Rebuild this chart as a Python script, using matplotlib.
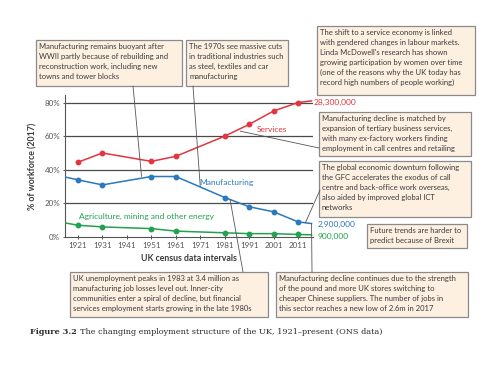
import matplotlib.pyplot as plt
from matplotlib.patches import Rectangle

# ---- data (share of workforce, %) ----
census_years = [1921, 1931, 1951, 1961, 1981, 1991, 2001, 2011]
services = [44.5, 50, 45, 48, 60, 67, 75, 80]
manufacturing = [34, 31, 36, 36, 23.5, 18, 15, 9]
agriculture = [7, 6, 5, 3.5, 2.5, 2, 2, 1.5]

# values at the axis edges (lines run on, no marker)
edge_years = [1916, 2016.5]
services_edge = [None, 81]
manufacturing_edge = [35.6, 8]
agriculture_edge = [8.3, 1.3]

xtick_years = [1921, 1931, 1941, 1951, 1961, 1971, 1981, 1991, 2001, 2011]
ytick_vals = [0, 20, 40, 60, 80]

end_labels = ["28,300,000", "2,900,000", "900,000"]

RED = "#e3343f"
BLUE = "#2a78be"
GREEN = "#22a24e"
BOX_FC = "#fdf0e1"
BOX_EC = "#8a8a8a"
TXT = "#3a3a3a"
FONT = "Lato"

plt.rcParams["font.family"] = [FONT, "DejaVu Sans"]

fig = plt.figure(figsize=(5, 3.65), dpi=100)
W, H = 500, 365

# main plot area, in pixels: x 65..313, y 95..237
ax = fig.add_axes([65 / W, 1 - 237 / H, (313 - 65) / W, (237 - 95) / H])
ax.set_xlim(1915.7, 2017.1)
ax.set_ylim(0, 84.5)

def series(xs, ys, e0, e1, color):
    px, py = [], []
    if e0 is not None:
        px.append(edge_years[0]); py.append(e0)
    px += xs; py += ys
    if e1 is not None:
        px.append(edge_years[1]); py.append(e1)
    ax.plot(px, py, color=color, lw=1.1, zorder=3)
    ax.plot(xs, ys, "o", color=color, ms=3.2, zorder=4)

series(census_years, services, services_edge[0], services_edge[1], RED)
series(census_years, manufacturing, manufacturing_edge[0], manufacturing_edge[1], BLUE)
series(census_years, agriculture, agriculture_edge[0], agriculture_edge[1], GREEN)

for v in ytick_vals[1:]:
    ax.axhline(v, color="#4a4a4a", lw=0.9, zorder=1)

ax.set_xticks(xtick_years)
ax.set_xticklabels([str(y) for y in xtick_years])
ax.set_yticks(ytick_vals)
ax.set_yticklabels([f"{v}%" for v in ytick_vals])
ax.tick_params(axis="both", labelsize=5.8, colors="#555555", length=3,
               width=0.7, direction="inout", pad=2)
for s in ["top", "right"]:
    ax.spines[s].set_visible(False)
for s in ["left", "bottom"]:
    ax.spines[s].set_color("#555555")
    ax.spines[s].set_linewidth(0.8)
ax.patch.set_alpha(0)

ax.set_xlabel("UK census data intervals", fontsize=6.3, fontweight="bold",
              color=TXT, labelpad=4)
ax.set_ylabel("% of workforce (2017)", fontsize=6.3, fontweight="bold",
              color=TXT, labelpad=5)

# series labels
ax.text(1994.2, 64, "Services", color=RED, fontsize=6, va="center")
ax.text(1970.5, 32.5, "Manufacturing", color=BLUE, fontsize=6, va="center")
ax.text(1921.3, 12, "Agriculture, mining and other energy", color=GREEN,
        fontsize=6, va="center")

# overlay in pixel coordinates for boxes
ov = fig.add_axes([0, 0, 1, 1])
ov.set_xlim(0, W)
ov.set_ylim(H, 0)
ov.axis("off")
ov.patch.set_alpha(0)

ov.text(314, 102, end_labels[0], color=RED, fontsize=6, va="center")
ov.text(318, 224, end_labels[1], color=BLUE, fontsize=6, va="center")
ov.text(318, 236, end_labels[2], color=GREEN, fontsize=6, va="center")

boxes = [
    ((36, 40, 182, 86), "Manufacturing remains buoyant after\nWWII partly because of rebuilding and\n"
     "reconstruction work, including new\ntowns and tower blocks"),
    ((186, 40, 288, 86), "The 1970s see massive cuts\nin traditional industries such\n"
     "as steel, textiles and car\nmanufacturing"),
    ((317, 26, 475, 95), "The shift to a service economy is linked\nwith gendered changes in labour markets.\n"
     "Linda McDowell's research has shown\ngrowing participation by women over time\n"
     "(one of the reasons why the UK today has\nrecord high numbers of people working)"),
    ((319, 112, 471, 156), "Manufacturing decline is matched by\nexpansion of tertiary business services,\n"
     "with many ex-factory workers finding\nemployment in call centres and retailing"),
    ((319, 161, 471, 217), "The global economic downturn following\nthe GFC accelerates the exodus of call\n"
     "centre and back-office work overseas,\nalso aided by improved global ICT\nnetworks"),
    ((367, 224, 467, 248), "Future trends are harder to\npredict because of Brexit"),
    ((70, 272, 268, 317), "UK unemployment peaks in 1983 at 3.4 million as\nmanufacturing job losses level out. Inner-city\n"
     "communities enter a spiral of decline, but financial\nservices employment starts growing in the late 1980s"),
    ((276, 272, 468, 317), "Manufacturing decline continues due to the strength\nof the pound and more UK stores switching to\n"
     "cheaper Chinese suppliers. The number of jobs in\nthis sector reaches a new low of 2.6m in 2017"),
]
for (x0, y0, x1, y1), txt in boxes:
    ov.add_patch(Rectangle((x0, y0), x1 - x0, y1 - y0, fc=BOX_FC, ec=BOX_EC, lw=0.9, zorder=2))
    ov.text(x0 + 3, y0 + 3, txt, fontsize=5.5, color=TXT, va="top", ha="left",
            linespacing=1.5, zorder=3)

# leader lines: box point (pixels) -> data point
leaders = [
    ((133, 86), (1947, 36)),
    ((193, 86), (1971, 30)),
    ((319, 148), (1987.3, 63)),
    ((320, 190), (2014, 8.5)),
    ((243, 272), (1983.2, 22.3)),
    ((312, 272), (2016.5, 8)),
]
for (bx, by), (dx, dy) in leaders:
    ov.annotate("", xy=(dx, dy), xycoords=ax.transData, xytext=(bx, by),
                textcoords=ov.transData,
                arrowprops=dict(arrowstyle="-", lw=0.6, color="#555555",
                                shrinkA=0, shrinkB=0))

cap = ov.text(30, 332, "Figure 3.2", fontsize=5.9, color="#2a2a2a", va="center",
              fontweight="bold", family="DejaVu Serif")
ov.annotate("The changing employment structure of the UK, 1921\u2013present (ONS data)",
            xy=(1, 0.5), xycoords=cap, xytext=(2.2, 0), textcoords="offset points",
            va="center", fontsize=5.9, color="#2a2a2a", family="DejaVu Serif")

fig.savefig("out.png", dpi=100)
